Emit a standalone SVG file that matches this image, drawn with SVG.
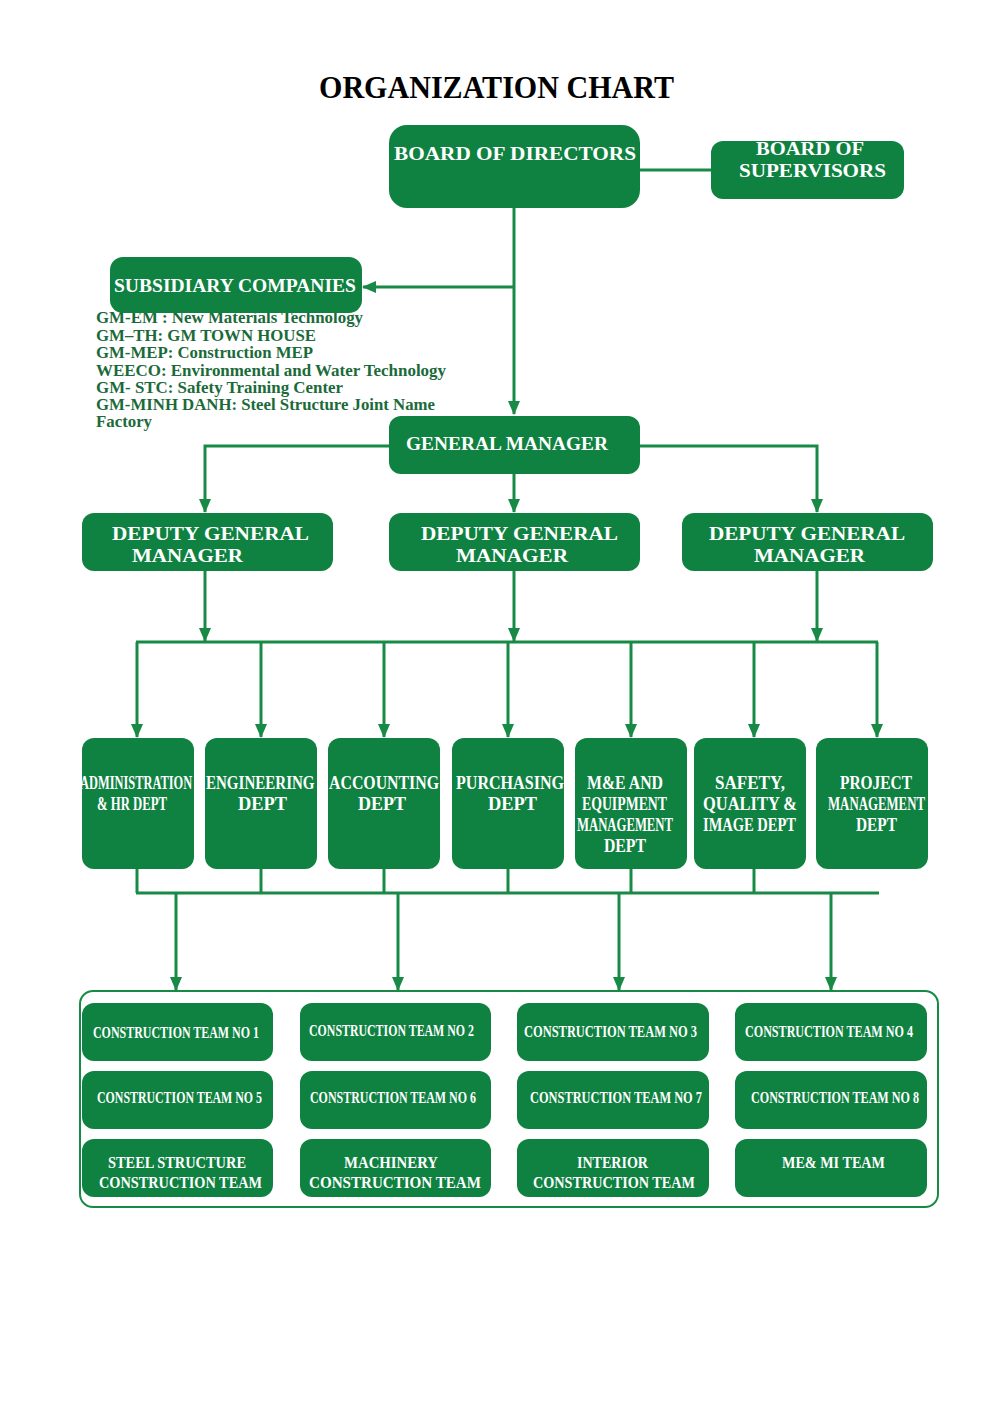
<svg xmlns="http://www.w3.org/2000/svg" width="1000" height="1403" viewBox="0 0 1000 1403">
<defs>
<marker id="arr" markerUnits="userSpaceOnUse" markerWidth="14" markerHeight="12" viewBox="0 0 14 12" refX="13" refY="6" orient="auto">
<path d="M0,0 L14,6 L0,12 z" fill="#178a45"/>
</marker>
<style>
.box{fill:#0f8241;}
.t{font-family:"Liberation Serif","Times New Roman",serif;font-weight:bold;fill:#ffffff;}
.c{stroke:#178a45;stroke-width:3;fill:none;}
.ca{stroke:#178a45;stroke-width:3;fill:none;marker-end:url(#arr);}
.lst{font-family:"Liberation Serif","Times New Roman",serif;font-weight:bold;fill:#1b6a3a;font-size:16px;}
</style>
</defs>
<rect width="1000" height="1403" fill="#ffffff"/>
<text x="319" y="98" font-family="Liberation Serif, Times New Roman, serif" font-weight="bold" font-size="31" fill="#000" textLength="355" lengthAdjust="spacingAndGlyphs">ORGANIZATION CHART</text>

<g id="connectors">
<line class="c" x1="640" y1="170" x2="711" y2="170"/>
<line class="ca" x1="514" y1="208" x2="514" y2="414"/>
<line class="ca" x1="514" y1="287" x2="363" y2="287"/>
<polyline class="ca" points="389,446 205,446 205,512"/>
<polyline class="ca" points="640,446 817,446 817,512"/>
<line class="ca" x1="514" y1="474" x2="514" y2="512"/>
<line class="ca" x1="205" y1="571" x2="205" y2="641"/>
<line class="ca" x1="514" y1="571" x2="514" y2="641"/>
<line class="ca" x1="817" y1="571" x2="817" y2="641"/>
<line class="c" x1="136" y1="642" x2="878" y2="642"/>
<line class="ca" x1="137" y1="642" x2="137" y2="737"/>
<line class="ca" x1="261" y1="642" x2="261" y2="737"/>
<line class="ca" x1="384" y1="642" x2="384" y2="737"/>
<line class="ca" x1="508" y1="642" x2="508" y2="737"/>
<line class="ca" x1="631" y1="642" x2="631" y2="737"/>
<line class="ca" x1="754" y1="642" x2="754" y2="737"/>
<line class="ca" x1="877" y1="642" x2="877" y2="737"/>
<line class="c" x1="137" y1="869" x2="137" y2="893"/>
<line class="c" x1="261" y1="869" x2="261" y2="893"/>
<line class="c" x1="384" y1="869" x2="384" y2="893"/>
<line class="c" x1="508" y1="869" x2="508" y2="893"/>
<line class="c" x1="631" y1="869" x2="631" y2="893"/>
<line class="c" x1="754" y1="869" x2="754" y2="893"/>
<line class="c" x1="136" y1="893" x2="879" y2="893"/>
<line class="ca" x1="176" y1="893" x2="176" y2="990"/>
<line class="ca" x1="398" y1="893" x2="398" y2="990"/>
<line class="ca" x1="619" y1="893" x2="619" y2="990"/>
<line class="ca" x1="831" y1="893" x2="831" y2="990"/>
</g>

<g id="subsidiary-list">
<text class="lst" x="96" y="323" textLength="267" lengthAdjust="spacingAndGlyphs">GM-EM : New Materials Technology</text>
<text class="lst" x="96" y="341" textLength="220" lengthAdjust="spacingAndGlyphs">GM–TH: GM TOWN HOUSE</text>
<text class="lst" x="96" y="358" textLength="217" lengthAdjust="spacingAndGlyphs">GM-MEP: Construction MEP</text>
<text class="lst" x="96" y="376" textLength="350" lengthAdjust="spacingAndGlyphs">WEECO: Environmental and Water Technology</text>
<text class="lst" x="96" y="393" textLength="247" lengthAdjust="spacingAndGlyphs">GM- STC: Safety Training Center</text>
<text class="lst" x="96" y="410" textLength="339" lengthAdjust="spacingAndGlyphs">GM-MINH DANH: Steel Structure Joint Name</text>
<text class="lst" x="96" y="427" textLength="56" lengthAdjust="spacingAndGlyphs">Factory</text>
</g>

<g id="board-of-directors">
<rect class="box" x="389" y="125" width="251" height="83" rx="18"/>
<text class="t" x="394" y="160" font-size="19" textLength="242" lengthAdjust="spacingAndGlyphs">BOARD OF DIRECTORS</text>
</g>
<g id="board-of-supervisors">
<rect class="box" x="711" y="141" width="193" height="58" rx="12"/>
<text class="t" x="756" y="155" font-size="19" textLength="108" lengthAdjust="spacingAndGlyphs">BOARD OF</text>
<text class="t" x="739" y="177" font-size="19" textLength="147" lengthAdjust="spacingAndGlyphs">SUPERVISORS</text>
</g>
<g id="subsidiary-companies">
<rect class="box" x="110" y="257" width="252" height="56" rx="13"/>
<text class="t" x="114" y="292" font-size="19" textLength="242" lengthAdjust="spacingAndGlyphs">SUBSIDIARY COMPANIES</text>
</g>
<g id="general-manager">
<rect class="box" x="389" y="416" width="251" height="58" rx="12"/>
<text class="t" x="406" y="450" font-size="19" textLength="202" lengthAdjust="spacingAndGlyphs">GENERAL MANAGER</text>
</g>

<g id="dgm-1">
<rect class="box" x="82" y="513" width="251" height="58" rx="12"/>
<text class="t" x="112" y="540" font-size="19" textLength="197" lengthAdjust="spacingAndGlyphs">DEPUTY GENERAL</text>
<text class="t" x="132" y="562" font-size="19" textLength="111" lengthAdjust="spacingAndGlyphs">MANAGER</text>
</g>
<g id="dgm-2">
<rect class="box" x="389" y="513" width="251" height="58" rx="12"/>
<text class="t" x="421" y="540" font-size="19" textLength="197" lengthAdjust="spacingAndGlyphs">DEPUTY GENERAL</text>
<text class="t" x="456" y="562" font-size="19" textLength="112" lengthAdjust="spacingAndGlyphs">MANAGER</text>
</g>
<g id="dgm-3">
<rect class="box" x="682" y="513" width="251" height="58" rx="12"/>
<text class="t" x="709" y="540" font-size="19" textLength="196" lengthAdjust="spacingAndGlyphs">DEPUTY GENERAL</text>
<text class="t" x="754" y="562" font-size="19" textLength="111" lengthAdjust="spacingAndGlyphs">MANAGER</text>
</g>

<g id="dept-admin">
<rect class="box" x="82" y="738" width="112" height="131" rx="12"/>
<text class="t" transform="translate(80,789) scale(0.69,1)" x="0" y="0" font-size="18">ADMINISTRATION</text>
<text class="t" x="97" y="810" font-size="18" textLength="70" lengthAdjust="spacingAndGlyphs">&amp; HR DEPT</text>
</g>
<g id="dept-engineering">
<rect class="box" x="205" y="738" width="112" height="131" rx="12"/>
<text class="t" transform="translate(206,789) scale(0.835,1)" x="0" y="0" font-size="18">ENGINEERING</text>
<text class="t" x="238" y="810" font-size="18" textLength="49" lengthAdjust="spacingAndGlyphs">DEPT</text>
</g>
<g id="dept-accounting">
<rect class="box" x="328" y="738" width="112" height="131" rx="12"/>
<text class="t" x="329" y="789" font-size="18" textLength="110" lengthAdjust="spacingAndGlyphs">ACCOUNTING</text>
<text class="t" x="358" y="810" font-size="18" textLength="48" lengthAdjust="spacingAndGlyphs">DEPT</text>
</g>
<g id="dept-purchasing">
<rect class="box" x="452" y="738" width="112" height="131" rx="12"/>
<text class="t" x="456" y="789" font-size="18" textLength="108" lengthAdjust="spacingAndGlyphs">PURCHASING</text>
<text class="t" x="488" y="810" font-size="18" textLength="49" lengthAdjust="spacingAndGlyphs">DEPT</text>
</g>
<g id="dept-me">
<rect class="box" x="575" y="738" width="112" height="131" rx="12"/>
<text class="t" x="587" y="789" font-size="18" textLength="76" lengthAdjust="spacingAndGlyphs">M&amp;E AND</text>
<text class="t" x="582" y="810" font-size="18" textLength="85" lengthAdjust="spacingAndGlyphs">EQUIPMENT</text>
<text class="t" x="577" y="831" font-size="18" textLength="96" lengthAdjust="spacingAndGlyphs">MANAGEMENT</text>
<text class="t" x="604" y="852" font-size="18" textLength="42" lengthAdjust="spacingAndGlyphs">DEPT</text>
</g>
<g id="dept-safety">
<rect class="box" x="694" y="738" width="112" height="131" rx="12"/>
<text class="t" x="715" y="789" font-size="18" textLength="70" lengthAdjust="spacingAndGlyphs">SAFETY,</text>
<text class="t" x="703" y="810" font-size="18" textLength="94" lengthAdjust="spacingAndGlyphs">QUALITY &amp;</text>
<text class="t" x="703" y="831" font-size="18" textLength="93" lengthAdjust="spacingAndGlyphs">IMAGE DEPT</text>
</g>
<g id="dept-project">
<rect class="box" x="816" y="738" width="112" height="131" rx="12"/>
<text class="t" x="840" y="789" font-size="18" textLength="72" lengthAdjust="spacingAndGlyphs">PROJECT</text>
<text class="t" x="828" y="810" font-size="18" textLength="97" lengthAdjust="spacingAndGlyphs">MANAGEMENT</text>
<text class="t" x="856" y="831" font-size="18" textLength="41" lengthAdjust="spacingAndGlyphs">DEPT</text>
</g>

<g id="teams-container">
<rect x="80" y="991" width="858" height="216" rx="13" fill="#ffffff" stroke="#178a45" stroke-width="2"/>
</g>
<g id="team-1"><rect class="box" x="82" y="1003" width="191" height="58" rx="12"/><text class="t" x="93" y="1038" font-size="16" textLength="166" lengthAdjust="spacingAndGlyphs">CONSTRUCTION TEAM NO 1</text></g>
<g id="team-2"><rect class="box" x="300" y="1003" width="191" height="58" rx="12"/><text class="t" x="309" y="1036" font-size="16" textLength="165" lengthAdjust="spacingAndGlyphs">CONSTRUCTION TEAM NO 2</text></g>
<g id="team-3"><rect class="box" x="517" y="1003" width="192" height="58" rx="12"/><text class="t" x="524" y="1037" font-size="16" textLength="173" lengthAdjust="spacingAndGlyphs">CONSTRUCTION TEAM NO 3</text></g>
<g id="team-4"><rect class="box" x="735" y="1003" width="192" height="58" rx="12"/><text class="t" x="745" y="1037" font-size="16" textLength="168" lengthAdjust="spacingAndGlyphs">CONSTRUCTION TEAM NO  4</text></g>
<g id="team-5"><rect class="box" x="82" y="1071" width="191" height="58" rx="12"/><text class="t" x="97" y="1103" font-size="16" textLength="165" lengthAdjust="spacingAndGlyphs">CONSTRUCTION TEAM NO 5</text></g>
<g id="team-6"><rect class="box" x="300" y="1071" width="191" height="58" rx="12"/><text class="t" x="310" y="1103" font-size="16" textLength="166" lengthAdjust="spacingAndGlyphs">CONSTRUCTION TEAM NO 6</text></g>
<g id="team-7"><rect class="box" x="517" y="1071" width="192" height="58" rx="12"/><text class="t" x="530" y="1103" font-size="16" textLength="172" lengthAdjust="spacingAndGlyphs">CONSTRUCTION TEAM NO 7</text></g>
<g id="team-8"><rect class="box" x="735" y="1071" width="192" height="58" rx="12"/><text class="t" x="751" y="1103" font-size="16" textLength="168" lengthAdjust="spacingAndGlyphs">CONSTRUCTION TEAM NO  8</text></g>
<g id="team-steel"><rect class="box" x="82" y="1139" width="191" height="58" rx="12"/>
<text class="t" x="108" y="1168" font-size="16" textLength="138" lengthAdjust="spacingAndGlyphs">STEEL STRUCTURE</text>
<text class="t" x="99" y="1188" font-size="16" textLength="163" lengthAdjust="spacingAndGlyphs">CONSTRUCTION TEAM</text></g>
<g id="team-machinery"><rect class="box" x="300" y="1139" width="191" height="58" rx="12"/>
<text class="t" x="344" y="1168" font-size="16" textLength="94" lengthAdjust="spacingAndGlyphs">MACHINERY</text>
<text class="t" x="309" y="1188" font-size="16" textLength="172" lengthAdjust="spacingAndGlyphs">CONSTRUCTION TEAM</text></g>
<g id="team-interior"><rect class="box" x="517" y="1139" width="192" height="58" rx="12"/>
<text class="t" x="577" y="1168" font-size="16" textLength="71" lengthAdjust="spacingAndGlyphs">INTERIOR</text>
<text class="t" x="533" y="1188" font-size="16" textLength="162" lengthAdjust="spacingAndGlyphs">CONSTRUCTION TEAM</text></g>
<g id="team-meml"><rect class="box" x="735" y="1139" width="192" height="58" rx="12"/>
<text class="t" x="782" y="1168" font-size="16" textLength="103" lengthAdjust="spacingAndGlyphs">ME&amp; MI TEAM</text></g>
</svg>
